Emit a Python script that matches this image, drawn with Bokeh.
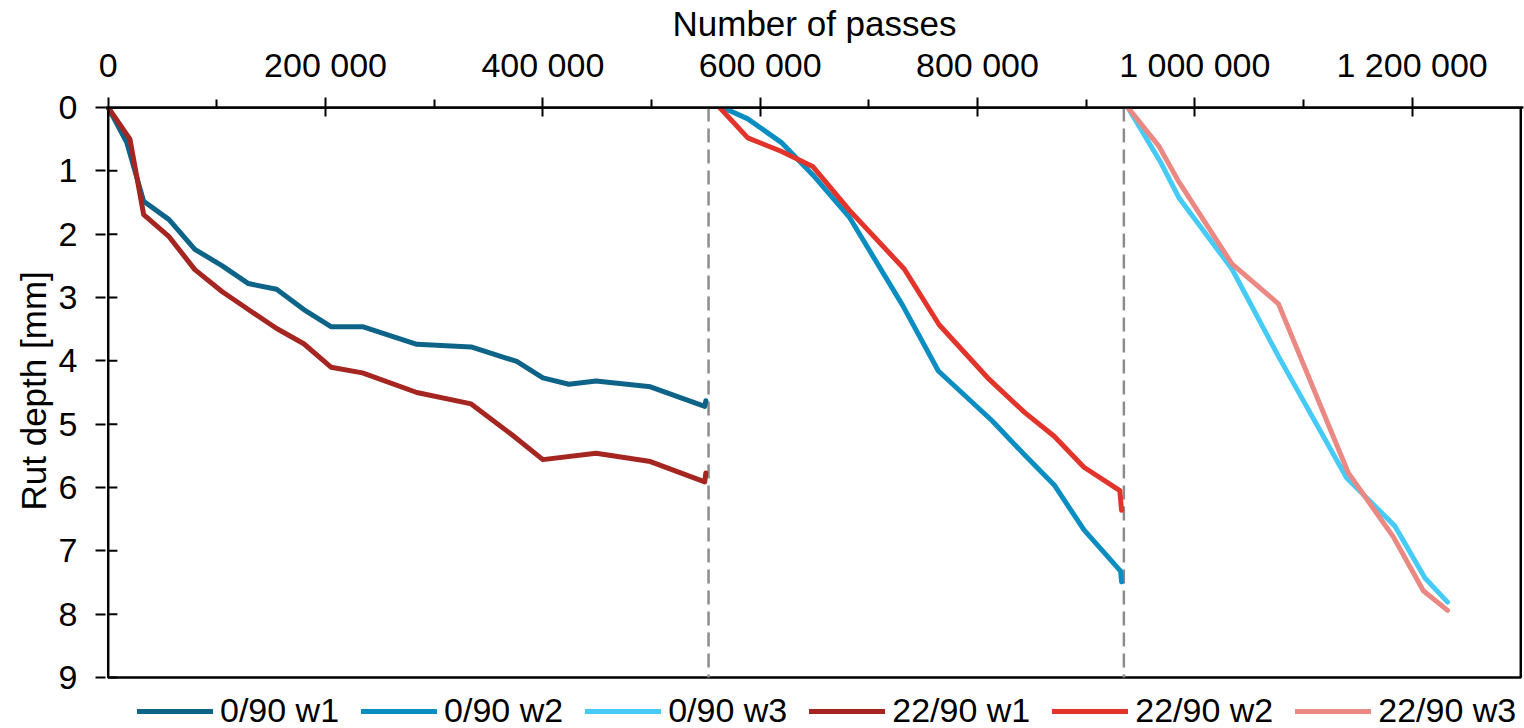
from bokeh.plotting import figure
from bokeh.models import Range1d, FixedTicker, Legend, LegendItem, Title
from bokeh.embed import file_html
from bokeh.resources import INLINE

# ---- data ----
x_090_w1 = [0, 17000, 32600, 56000, 79700, 105000, 129000, 155000, 180000, 205000, 234000,
            284000, 334000, 376000, 400000, 424000, 449000, 499000, 549000, 550000]
y_090_w1 = [0, 0.55, 1.48, 1.77, 2.24, 2.50, 2.78, 2.87, 3.19, 3.46, 3.46,
            3.74, 3.78, 4.01, 4.27, 4.37, 4.32, 4.41, 4.72, 4.63]

x_2290_w1 = [0, 20000, 32600, 56000, 79700, 105000, 129000, 155000, 180000, 205000, 234000,
             284000, 334000, 371000, 400000, 449000, 499000, 549000, 550000]
y_2290_w1 = [0, 0.50, 1.69, 2.04, 2.56, 2.91, 3.19, 3.49, 3.73, 4.10, 4.19,
             4.50, 4.68, 5.16, 5.56, 5.46, 5.59, 5.91, 5.77]

x_090_w2 = [565500, 588600, 619300, 648300, 682000, 731000, 764000, 813700, 843000,
            870600, 898000, 931700, 932600]
y_090_w2 = [0, 0.18, 0.55, 1.06, 1.73, 3.12, 4.16, 4.95, 5.48, 5.96, 6.67, 7.32, 7.49]

x_2290_w2 = [562700, 588600, 619300, 648300, 682000, 732600, 764700, 810600, 843000,
             870600, 898000, 931000, 932600]
y_2290_w2 = [0, 0.48, 0.69, 0.93, 1.62, 2.55, 3.43, 4.29, 4.81, 5.19, 5.68, 6.05, 6.36]

x_090_w3 = [938400, 968400, 985200, 1034200, 1077000, 1139800, 1184200, 1211800, 1232600]
y_090_w3 = [0, 0.86, 1.42, 2.55, 3.93, 5.85, 6.61, 7.43, 7.81]

x_2290_w3 = [938400, 966900, 985200, 1034200, 1077000, 1141300, 1182700, 1210300, 1232600]
y_2290_w3 = [0, 0.61, 1.17, 2.47, 3.10, 5.77, 6.78, 7.63, 7.94]

series_names = ["0/90 w1", "0/90 w2", "0/90 w3", "22/90 w1", "22/90 w2", "22/90 w3"]
series_colors = ["#0e6488", "#0a8ec1", "#45cbf5", "#a52520", "#e2342b", "#ea8983"]

divider_passes = [552500, 934700]

x_ticks = [0, 200000, 400000, 600000, 800000, 1000000, 1200000]
x_tick_labels = ["0", "200 000", "400 000", "600 000", "800 000", "1 000 000", "1 200 000"]
x_minor_ticks = [100000, 300000, 500000, 700000, 900000, 1100000]
y_ticks = [0, 1, 2, 3, 4, 5, 6, 7, 8, 9]

X_MAX = 1300000
Y_MAX = 9

FONT = "Liberation Sans"

# frame spans down to the bottom of the page; the plot box (0..9 mm) is drawn as a quad,
# the strip below 9 mm holds the legend
FRAME_H = 728 - 107
PX_PER_MM = 570 / Y_MAX
y_view_bottom = FRAME_H / PX_PER_MM

p = figure(width=1524, height=728, output_backend="svg", toolbar_location=None,
           x_axis_location="above",
           x_range=Range1d(-2500, X_MAX + 2500), y_range=Range1d(y_view_bottom, 0),
           min_border_left=105, min_border_right=1, min_border_top=107, min_border_bottom=0)

p.grid.visible = False
p.outline_line_color = None
p.background_fill_color = "white"
p.border_fill_color = "white"

xa = p.xaxis[0]
xa.ticker = FixedTicker(ticks=x_ticks, minor_ticks=x_minor_ticks)
xa.major_label_overrides = {t: l for t, l in zip(x_ticks, x_tick_labels)}
xa.axis_label = "Number of passes"
ya = p.yaxis[0]
ya.ticker = FixedTicker(ticks=y_ticks, minor_ticks=[])

for ax in (xa, ya):
    ax.axis_line_color = "black"
    ax.axis_line_width = 2.5
    ax.major_tick_line_color = "black"
    ax.major_tick_line_width = 2
    ax.major_tick_out = 10
    ax.major_tick_in = 9
    ax.minor_tick_line_color = "black"
    ax.minor_tick_line_width = 2
    ax.minor_tick_out = 8
    ax.minor_tick_in = 0
    ax.major_label_text_font = FONT
    ax.major_label_text_font_size = "34px"
    ax.major_label_text_color = "black"
    ax.axis_label_text_font = FONT
    ax.axis_label_text_font_size = "35px"
    ax.axis_label_text_font_style = "normal"
    ax.axis_label_text_color = "black"

ya.axis_line_color = None
ya.major_tick_in = 0
xa.major_label_standoff = 14
xa.axis_label_standoff = 0
ya.major_label_standoff = 18

# y axis title, placed alongside the 0..9 mm box rather than the whole frame
p.add_layout(Title(text="Rut depth [mm]", align="left", offset=218, standoff=6,
                   text_font=FONT, text_font_size="35px", text_font_style="normal",
                   text_color="black"), "left")

# plot box
p.quad(left=[0], right=[X_MAX], top=[0], bottom=[Y_MAX], fill_alpha=0,
       line_color="black", line_width=2.5)
# y ticks inside (drawn over the box edge)
p.segment(x0=[0] * len(y_ticks), y0=y_ticks, x1=[X_MAX * 0.0065] * len(y_ticks), y1=y_ticks,
          line_color="black", line_width=2)

# dashed dividers
p.segment(x0=divider_passes, y0=[0] * len(divider_passes),
          x1=divider_passes, y1=[Y_MAX] * len(divider_passes),
          line_color="#8c8c8c", line_width=2.5, line_dash="14 7")

xs = [x_090_w1, x_090_w2, x_090_w3, x_2290_w1, x_2290_w2, x_2290_w3]
ys = [y_090_w1, y_090_w2, y_090_w3, y_2290_w1, y_2290_w2, y_2290_w3]
order = [0, 3, 1, 4, 2, 5]
renderers = {}
for i in order:
    renderers[i] = p.line(xs[i], ys[i], line_color=series_colors[i], line_width=5,
                          line_join="round", line_cap="round")

items = [LegendItem(label=series_names[i], renderers=[renderers[i]]) for i in range(6)]
legend = Legend(items=items, orientation="horizontal", location=(32, -2),
                glyph_width=76, glyph_height=20, label_standoff=7, spacing=22,
                padding=0, margin=0, border_line_color=None, background_fill_alpha=0,
                label_text_font=FONT, label_text_font_size="34px", label_text_color="black")
p.add_layout(legend, "center")

open("out.html", "w").write(file_html(p, INLINE))
